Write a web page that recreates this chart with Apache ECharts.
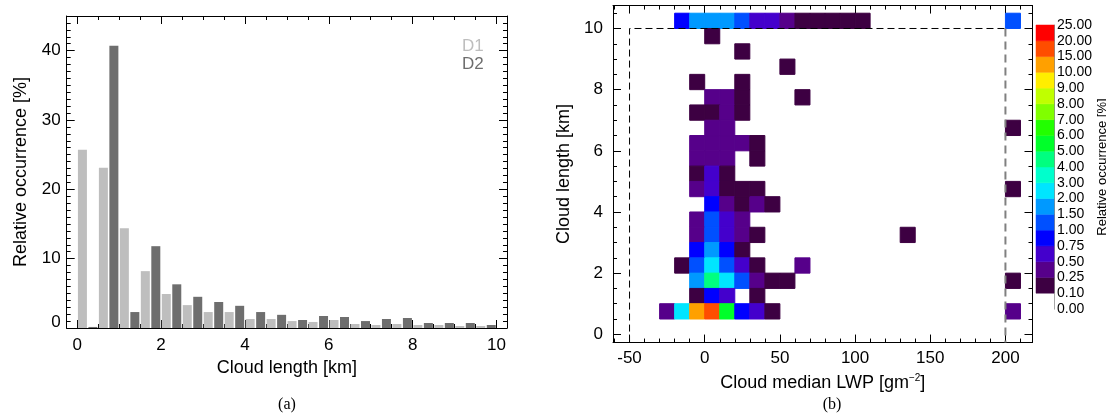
<!DOCTYPE html>
<html>
<head>
<meta charset="utf-8">
<title>Cloud length statistics</title>
<script src="https://cdn.jsdelivr.net/npm/echarts@6/dist/echarts.min.js"></script>
<style>
    html, body { margin: 0; padding: 0; background: #fff; }
    #main { width: 1106px; height: 418px; }
</style>
</head>
<body>
<div id="main"></div>
<script>
// (a) histogram, 0.5 km bins of cloud length, relative occurrence [%]
const binCenters = [0.25, 0.75, 1.25, 1.75, 2.25, 2.75, 3.25, 3.75, 4.25, 4.75,
                    5.25, 5.75, 6.25, 6.75, 7.25, 7.75, 8.25, 8.75, 9.25, 9.75];
const d1Values = [25.7, 23.1, 14.4, 8.2, 4.9, 3.3, 2.3, 2.3, 1.3, 1.3,
                  1.0, 0.87, 1.15, 0.58, 0.43, 0.58, 0.43, 0.43, 0.29, 0.29];
const d2Values = [0.15, 40.7, 2.3, 11.8, 6.3, 4.5, 3.75, 3.2, 2.3, 1.9,
                  1.15, 1.73, 1.59, 1.0, 1.3, 1.44, 0.72, 0.72, 0.72, 0.43];
const histXLabels = [0, 2, 4, 6, 8, 10];
const histYLabels = [0, 10, 20, 30, 40];

// (b) 2D histogram: [LWP bin start (10 g/m2), length bin start (0.5 km), occurrence %]
const cells = [
    [-20, 10, 0.85], [-10, 10, 1.7], [0, 10, 1.7], [10, 10, 1.7], [20, 10, 1.2], [30, 10, 0.6],
    [40, 10, 0.6], [50, 10, 0.35], [60, 10, 0.15], [70, 10, 0.15], [80, 10, 0.15], [90, 10, 0.15],
    [100, 10, 0.15], [200, 10, 1.2],
    [0, 9.5, 0.15],
    [20, 9, 0.15],
    [50, 8.5, 0.15],
    [-10, 8, 0.15], [20, 8, 0.15],
    [0, 7.5, 0.35], [10, 7.5, 0.35], [20, 7.5, 0.15], [60, 7.5, 0.15],
    [-10, 7, 0.15], [0, 7, 0.15], [10, 7, 0.35], [20, 7, 0.15],
    [0, 6.5, 0.35], [10, 6.5, 0.35], [200, 6.5, 0.15],
    [-10, 6, 0.35], [0, 6, 0.35], [10, 6, 0.35], [20, 6, 0.35], [30, 6, 0.15],
    [-10, 5.5, 0.35], [0, 5.5, 0.35], [10, 5.5, 0.35], [30, 5.5, 0.15],
    [-10, 5, 0.15], [0, 5, 0.6], [10, 5, 0.15],
    [-10, 4.5, 0.35], [0, 4.5, 0.6], [10, 4.5, 0.15], [20, 4.5, 0.15], [30, 4.5, 0.15], [200, 4.5, 0.15],
    [0, 4, 0.85], [10, 4, 0.35], [20, 4, 0.15], [30, 4, 0.35], [40, 4, 0.15],
    [-10, 3.5, 0.35], [0, 3.5, 1.2], [10, 3.5, 0.6], [20, 3.5, 0.35],
    [-10, 3, 0.35], [0, 3, 1.2], [10, 3, 0.6], [20, 3, 0.35], [30, 3, 0.15], [130, 3, 0.15],
    [-10, 2.5, 0.85], [0, 2.5, 1.7], [10, 2.5, 0.85], [20, 2.5, 0.15],
    [-20, 2, 0.15], [-10, 2, 1.2], [0, 2, 2.5], [10, 2, 1.2], [20, 2, 0.6], [30, 2, 0.15], [60, 2, 0.35],
    [-10, 1.5, 1.7], [0, 1.5, 4.5], [10, 1.5, 2.5], [20, 1.5, 1.2], [30, 1.5, 0.35], [40, 1.5, 0.15],
    [50, 1.5, 0.15], [200, 1.5, 0.15],
    [-10, 1, 0.15], [0, 1, 0.85], [10, 1, 0.6], [30, 1, 0.15],
    [-30, 0.5, 0.35], [-20, 0.5, 2.5], [-10, 0.5, 12], [0, 0.5, 17], [10, 0.5, 5.5], [20, 0.5, 0.85],
    [30, 0.5, 0.6], [40, 0.5, 0.15], [200, 0.5, 0.35]
];
const lwpLabels = [-50, 0, 50, 100, 150, 200];
const lengthLabels = [0, 2, 4, 6, 8, 10];

// colour levels of the colour bar
const levels = [0, 0.1, 0.25, 0.5, 0.75, 1, 1.5, 2, 3, 4, 5, 6, 7, 8, 9, 10, 15, 20, 25];
const levelColors = ['#ffffff', '#3d0042', '#56008a', '#4400cc', '#0000ff', '#0050ff', '#0099ff',
                     '#00e5ff', '#00ffcc', '#00ff80', '#00ff2a', '#22ff00', '#80ff00', '#c0ff00',
                     '#ffee00', '#ffa000', '#ff4d00', '#ff0000'];

function range(a, b, step) {
    let out = [];
    for (let v = a; v <= b + 1e-9; v += step) out.push(Math.round(v * 100) / 100);
    return out;
}

function levelColor(v) {
    for (let i = 0; i < levelColors.length; i++) {
        if (v >= levels[i] && v < levels[i + 1]) return levelColors[i];
    }
    return levelColors[levelColors.length - 1];
}

// box axes: ticks inside on all four sides, labels on bottom / left only
function frame(dim, gridIndex, min, max, majors, minors, label) {
    const sides = dim === 'x' ? ['bottom', 'top'] : ['left', 'right'];
    let axes = [];
    sides.forEach((pos, s) => {
        [[majors, 8], [minors, 4]].forEach((t, m) => {
            let ax = {
                type: 'value', gridIndex: gridIndex, position: pos, min: min, max: max,
                axisLine: {show: m === 0, onZero: false, lineStyle: {color: '#000', width: 1}},
                axisTick: {show: true, inside: true, length: t[1], customValues: t[0],
                           lineStyle: {color: '#000', width: 1}},
                axisLabel: {show: false},
                splitLine: {show: false}
            };
            if (s === 0 && m === 0) Object.assign(ax, label);
            axes.push(ax);
        });
    });
    return axes;
}

const tickFont = {color: '#000', fontSize: 17, fontFamily: 'Liberation Sans'};
const nameFont = {color: '#000', fontSize: 18, fontFamily: 'Liberation Sans'};
const yMinB = -0.27;

let chart = echarts.init(document.getElementById('main'));

let xAxes = []
    .concat(frame('x', 0, -0.25, 10.25, histXLabels, range(0, 10, 0.5), {
        name: 'Cloud length [km]', nameLocation: 'middle', nameGap: 29, nameTextStyle: nameFont,
        axisLabel: Object.assign({show: true, customValues: histXLabels, margin: 9}, tickFont)
    }))
    .concat(frame('x', 1, -61, 218, lwpLabels, range(-60, 210, 10), {
        name: 'Cloud median LWP [gm{sup|−2}]', nameLocation: 'middle', nameGap: 31,
        nameTextStyle: Object.assign({rich: {sup: {fontSize: 10, padding: [0, 0, 9, 0],
                                     fontFamily: 'Liberation Sans', color: '#000'}}}, nameFont),
        axisLabel: Object.assign({show: true, customValues: lwpLabels, margin: 7}, tickFont)
    }));
xAxes.push({type: 'value', gridIndex: 2, min: 0, max: 1, show: false});

let yAxes = []
    .concat(frame('y', 0, 0, 45, histYLabels, range(0, 45, 1), {
        name: 'Relative occurrence [%]', nameLocation: 'middle', nameGap: 37, nameTextStyle: nameFont,
        axisLabel: Object.assign({
            show: true, customValues: histYLabels, margin: 6,
            formatter: v => v === 0 ? '{lift|0}' : String(v),
            rich: {lift: {padding: [0, 0, 12, 0], fontSize: 17, fontFamily: 'Liberation Sans', color: '#000'}}
        }, tickFont)
    }))
    .concat(frame('y', 1, yMinB, 10.75, lengthLabels, range(0, 10.5, 0.5), {
        name: 'Cloud length [km]', nameLocation: 'middle', nameGap: 40, nameTextStyle: nameFont,
        axisLabel: Object.assign({show: true, customValues: lengthLabels, margin: 10}, tickFont)
    }));
yAxes.push({
    type: 'value', gridIndex: 2, position: 'right', min: 0, max: levelColors.length,
    axisLine: {show: true, onZero: false, lineStyle: {color: '#8a8a8a', width: 1}},
    axisTick: {show: false},
    splitLine: {show: false},
    axisLabel: {show: true, customValues: range(0, levelColors.length, 1), margin: 3,
                formatter: v => levels[Math.round(v)].toFixed(2),
                color: '#000', fontSize: 14, fontFamily: 'Liberation Sans'},
    name: 'Relative occurrence [%]', nameLocation: 'middle', nameGap: 40, nameRotate: 90,
    nameTextStyle: {color: '#000', fontSize: 13, fontFamily: 'Liberation Sans'}
});

let option = {
    animation: false,
    backgroundColor: '#fff',
    textStyle: {fontFamily: 'Liberation Sans'},
    grid: [
        {left: 66.7, top: 16, width: 440.3, height: 312, outerBoundsMode: 'none'},
        {left: 613, top: 5.56, width: 419.5, height: 337, outerBoundsMode: 'none'},
        {left: 1036, top: 25, width: 18, height: 284, outerBoundsMode: 'none'}
    ],
    xAxis: xAxes,
    yAxis: yAxes,
    legend: {
        orient: 'vertical', left: 452, top: 33, itemWidth: 0, itemHeight: 0, itemGap: 1,
        icon: 'none', selectedMode: false,
        textStyle: {fontSize: 17, fontFamily: 'Liberation Sans'},
        data: [
            {name: 'D1', textStyle: {color: '#bebebe'}},
            {name: 'D2', textStyle: {color: '#6e6e6e'}}
        ]
    },
    graphic: [
        {type: 'text', x: 287, y: 405, style: {text: '(a)', fill: '#000', font: '16px "Liberation Serif"',
         textAlign: 'center', textVerticalAlign: 'middle'}},
        {type: 'text', x: 832, y: 405, style: {text: '(b)', fill: '#000', font: '16px "Liberation Serif"',
         textAlign: 'center', textVerticalAlign: 'middle'}}
    ],
    series: [
        {
            name: 'D1', type: 'bar', xAxisIndex: 0, yAxisIndex: 0, barWidth: 9, barGap: '-100%',
            itemStyle: {color: '#bebebe'},
            data: binCenters.map((c, i) => [c - 0.125, d1Values[i]])
        },
        {
            name: 'D2', type: 'bar', xAxisIndex: 0, yAxisIndex: 0, barWidth: 9, barGap: '-100%',
            itemStyle: {color: '#6e6e6e'},
            data: binCenters.map((c, i) => [c + 0.125, d2Values[i]])
        },
        {
            name: 'cells', type: 'custom', xAxisIndex: 4, yAxisIndex: 4,
            data: cells,
            renderItem: function (params, api) {
                const x = api.value(0), y = api.value(1), v = api.value(2);
                const p0 = api.coord([x, y + 0.5]);
                const p1 = api.coord([x + 10, y]);
                const c = levelColor(v);
                return {
                    type: 'rect',
                    shape: {x: p0[0], y: p0[1], width: p1[0] - p0[0], height: p1[1] - p0[1]},
                    style: {fill: c, stroke: c, lineWidth: 1}
                };
            }
        },
        {
            name: 'box', type: 'line', xAxisIndex: 4, yAxisIndex: 4, symbol: 'none', z: 5,
            lineStyle: {color: '#000', width: 1, type: [7, 4]},
            data: [[-50, yMinB], [-50, 10], [200, 10]]
        },
        {
            name: 'limit', type: 'line', xAxisIndex: 4, yAxisIndex: 4, symbol: 'none', z: 5,
            lineStyle: {color: '#808080', width: 2, type: [8, 5]},
            data: [[200, 10], [200, yMinB]]
        },
        {
            name: 'colorbar', type: 'custom', xAxisIndex: 8, yAxisIndex: 8,
            data: levelColors.map((c, i) => [i, levels[i], levels[i + 1]]),
            renderItem: function (params, api) {
                const i = api.value(0);
                const p0 = api.coord([0, i + 1]);
                const p1 = api.coord([1, i]);
                return {
                    type: 'rect',
                    shape: {x: p0[0], y: p0[1], width: p1[0] - p0[0], height: p1[1] - p0[1]},
                    style: {fill: levelColors[i], stroke: levelColors[i], lineWidth: 0.5}
                };
            }
        }
    ]
};
chart.setOption(option);
</script>
</body>
</html>
